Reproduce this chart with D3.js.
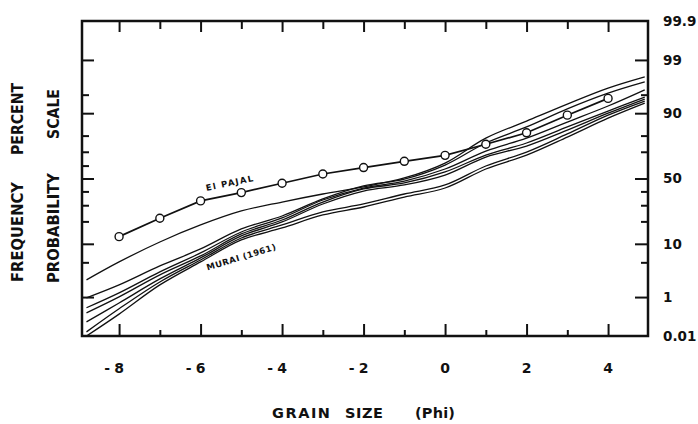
<!DOCTYPE html>
<html><head><meta charset="utf-8">
<script src="https://cdn.jsdelivr.net/npm/d3@7"></script>
<style>
body{margin:0;background:#fff}
svg{display:block}
text{font-family:"DejaVu Sans",sans-serif;font-weight:bold;fill:#111}
</style>
</head><body>
<svg id="chart" width="698" height="424"></svg>
<script>
// ---------- DATA ----------
const curvePhi = [-8.8, -8, -7, -6, -5, -4, -3, -2, -1, 0, 1, 2, 3, 4, 4.9];
const curveA = [2.33, 5.08, 10.65, 18.09, 26.2, 32.2, 38.05, 43.4, 50.4, 61.9, 78.6, 87.0, 92.8, 96.2, 97.7];
const curveB = [0.96, 1.84, 4.31, 8.35, 16.11, 23.1, 34.4, 44.2, 49.6, 60.4, 75.7, 84.4, 91.4, 95.3, 97.1];
const curveC = [0.56, 1.24, 3.34, 7.21, 14.70, 21.95, 33.66, 42.6, 48.0, 57.4, 70.5, 78.6, 86.6, 92.25, 95.9];
const curveD = [0.42, 1.01, 2.93, 6.43, 13.83, 20.78, 32.2, 41.85, 46.5, 55.1, 67.7, 75.7, 84.4, 90.7, 94.5];
const curveE = [0.245, 0.73, 2.44, 5.96, 12.99, 19.69, 30.85, 40.3, 44.95, 52.7, 66.3, 73.8, 82.9, 90.0, 94.05];
const curveF = [0.131, 0.53, 2.12, 5.50, 12.16, 18.09, 25.6, 30.85, 38.05, 44.95, 59.7, 69.8, 80.9, 89.3, 93.57];
const curveG = [0.10, 0.39, 1.84, 5.08, 11.39, 16.59, 23.7, 28.8, 35.8, 42.6, 57.4, 67.7, 79.2, 88.2, 93.05];

const elPajalPhi = [-8, -7, -6, -5, -4, -3, -2, -1, 0, 1, 2, 3, 4];
const elPajalPct = [12.7, 21.8, 33.0, 39.1, 46.3, 53.5, 58.5, 63.2, 67.5, 74.9, 81.5, 89.3, 94.2];

const xTickValues = [-8, -7, -6, -5, -4, -3, -2, -1, 0, 1, 2, 3, 4];
const xLabelValues = [-8, -6, -4, -2, 0, 2, 4];
const xLabelTexts = ["-8", "-6", "-4", "-2", "0", "2", "4"];

const leftTickPcts = [1, 5, 10, 20, 30, 40, 50, 60, 70, 80, 90, 95, 99];
const rightTickPcts = [1, 5, 10, 20, 30, 40, 50, 70, 80, 90, 95, 99];
const majorTickPcts = [1, 10, 50, 90, 99];
const yLabelPcts = [0.1, 1, 10, 50, 90, 99, 99.9];
const yLabelTexts = ["0.01", "1", "10", "50", "90", "99", "99.9"];

// ---------- HELPERS ----------
function probit(p){
  const a=[-3.969683028665376e+01,2.209460984245205e+02,-2.759285104469687e+02,1.383577518672690e+02,-3.066479806614716e+01,2.506628277459239e+00];
  const b=[-5.447609879822406e+01,1.615858368580409e+02,-1.556989798598866e+02,6.680131188771972e+01,-1.328068155288572e+01];
  const c=[-7.784894002430293e-03,-3.223964580411365e-01,-2.400758277161838e+00,-2.549732539343734e+00,4.374664141464968e+00,2.938163982698783e+00];
  const d=[7.784695709041462e-03,3.224671290700398e-01,2.445134137142996e+00,3.754408661907416e+00];
  const pl=0.02425, ph=1-pl; let q,r;
  if(p<pl){q=Math.sqrt(-2*Math.log(p));return (((((c[0]*q+c[1])*q+c[2])*q+c[3])*q+c[4])*q+c[5])/((((d[0]*q+d[1])*q+d[2])*q+d[3])*q+1);}
  if(p>ph){q=Math.sqrt(-2*Math.log(1-p));return -(((((c[0]*q+c[1])*q+c[2])*q+c[3])*q+c[4])*q+c[5])/((((d[0]*q+d[1])*q+d[2])*q+d[3])*q+1);}
  q=p-0.5;r=q*q;return (((((a[0]*r+a[1])*r+a[2])*r+a[3])*r+a[4])*r+a[5])*q/(((((b[0]*r+b[1])*r+b[2])*r+b[3])*r+b[4])*r+1);
}
const z = pct => probit(pct/100);

// ---------- LAYOUT ----------
const L=82, R=648, T=21, B=336;
const svg = d3.select("#chart");
const x = d3.scaleLinear().domain([-8.91, 4.98]).range([L, R]);
const zs = d3.scaleLinear().domain([z(0.1), z(99.9)]).range([B, T]);
const y = pct => zs(z(pct));

svg.append("defs").append("clipPath").attr("id","clip")
  .append("rect").attr("x",L).attr("y",T).attr("width",R-L).attr("height",B-T);

// curves
const lineGen = d3.line().x(d=>x(d[0])).y(d=>y(d[1])).curve(d3.curveCatmullRom.alpha(0.5));
const curves = [curveA, curveB, curveC, curveD, curveE, curveF, curveG];
const gc = svg.append("g").attr("clip-path","url(#clip)");
gc.selectAll("path.c").data(curves).join("path").attr("class","c")
  .attr("d", s => lineGen(curvePhi.map((p,i)=>[p, s[i]])))
  .attr("fill","none").attr("stroke","#111").attr("stroke-width",1.3);

// El Pajal
const ep = elPajalPhi.map((p,i)=>[p, elPajalPct[i]]);
gc.append("path").attr("d", d3.line().x(d=>x(d[0])).y(d=>y(d[1]))(ep))
  .attr("fill","none").attr("stroke","#111").attr("stroke-width",1.7);
gc.selectAll("circle").data(ep).join("circle")
  .attr("cx",d=>x(d[0])).attr("cy",d=>y(d[1])).attr("r",4)
  .attr("fill","#fff").attr("stroke","#111").attr("stroke-width",1.4);

// axes helper
function styleAxis(g){
  g.select(".domain").remove();
  g.selectAll(".tick line").attr("stroke","#111").attr("stroke-width",2);
  g.selectAll(".tick text").remove();
}
const evenX = xTickValues.filter(v=>v%2===0), oddX = xTickValues.filter(v=>v%2!==0);
svg.append("g").attr("transform",`translate(0,${B})`).call(d3.axisBottom(x).tickValues(evenX).tickSizeInner(-12).tickSizeOuter(0)).call(styleAxis);
svg.append("g").attr("transform",`translate(0,${B})`).call(d3.axisBottom(x).tickValues(oddX).tickSizeInner(-6).tickSizeOuter(0)).call(styleAxis);
svg.append("g").attr("transform",`translate(0,${T})`).call(d3.axisTop(x).tickValues(evenX).tickSizeInner(-11).tickSizeOuter(0)).call(styleAxis);
svg.append("g").attr("transform",`translate(0,${T})`).call(d3.axisTop(x).tickValues(oddX).tickSizeInner(-8).tickSizeOuter(0)).call(styleAxis);

const isMajor = p => majorTickPcts.includes(p);
svg.append("g").attr("transform",`translate(${L},0)`).call(d3.axisLeft(zs).tickValues(leftTickPcts.filter(isMajor).map(z)).tickSizeInner(-12).tickSizeOuter(0)).call(styleAxis);
svg.append("g").attr("transform",`translate(${L},0)`).call(d3.axisLeft(zs).tickValues(leftTickPcts.filter(p=>!isMajor(p)).map(z)).tickSizeInner(-7).tickSizeOuter(0)).call(styleAxis);
svg.append("g").attr("transform",`translate(${R},0)`).call(d3.axisRight(zs).tickValues(rightTickPcts.filter(isMajor).map(z)).tickSizeInner(-13).tickSizeOuter(0)).call(styleAxis);
svg.append("g").attr("transform",`translate(${R},0)`).call(d3.axisRight(zs).tickValues(rightTickPcts.filter(p=>!isMajor(p)).map(z)).tickSizeInner(-7).tickSizeOuter(0)).call(styleAxis);

// right labels via axis
const ra = svg.append("g").attr("transform",`translate(${R},0)`)
  .call(d3.axisRight(zs).tickValues(yLabelPcts.map(z)).tickSize(0).tickPadding(15)
    .tickFormat((d,i)=>yLabelTexts[i]));
ra.select(".domain").remove();
ra.selectAll("text").attr("font-size",13.5).attr("font-family","DejaVu Sans").attr("font-weight","bold").attr("fill","#111");

// frame
svg.append("rect").attr("x",L).attr("y",T).attr("width",R-L).attr("height",B-T)
  .attr("fill","none").attr("stroke","#111").attr("stroke-width",2.5);

// bottom labels: digit centred on tick, minus sign to the left
const bl = svg.append("g").selectAll("g").data(xLabelValues).join("g")
  .attr("transform",(d)=>`translate(${x(d)},373)`);
bl.append("text").attr("text-anchor","middle").attr("font-size",14)
  .text((d,i)=>xLabelTexts[i].replace("-",""));
bl.filter((d,i)=>xLabelTexts[i].startsWith("-")).append("text")
  .attr("x",-12).attr("text-anchor","middle").attr("font-size",14).text("-");

// axis titles
svg.append("text").attr("x",272).attr("y",418).attr("font-size",14.5).attr("textLength",58).text("GRAIN");
svg.append("text").attr("x",345).attr("y",418).attr("font-size",14.5).attr("textLength",38).text("SIZE");
svg.append("text").attr("x",415).attr("y",418).attr("font-size",14.5).attr("textLength",40).text("(Phi)");

const vt = [["FREQUENCY",22.5,232,100],["PERCENT",22.5,119,72],["PROBABILITY",58.5,228,110],["SCALE",58.5,114,50]];
svg.selectAll("text.v").data(vt).join("text").attr("class","v")
  .attr("transform",d=>`translate(${d[1]},${d[2]}) rotate(-90)`)
  .attr("text-anchor","middle").attr("font-size",15)
  .attr("textLength",d=>d[3]).attr("lengthAdjust","spacingAndGlyphs").text(d=>d[0]);

// annotations
svg.append("text").attr("transform","translate(230,186) rotate(-12)").attr("text-anchor","middle")
  .attr("font-size",8.5).attr("textLength",48).text("El PAJAL");
svg.append("text").attr("transform","translate(242,260) rotate(-17)").attr("text-anchor","middle")
  .attr("font-size",8.5).attr("textLength",72).text("MURAI (1961)");
</script>
</body></html>
